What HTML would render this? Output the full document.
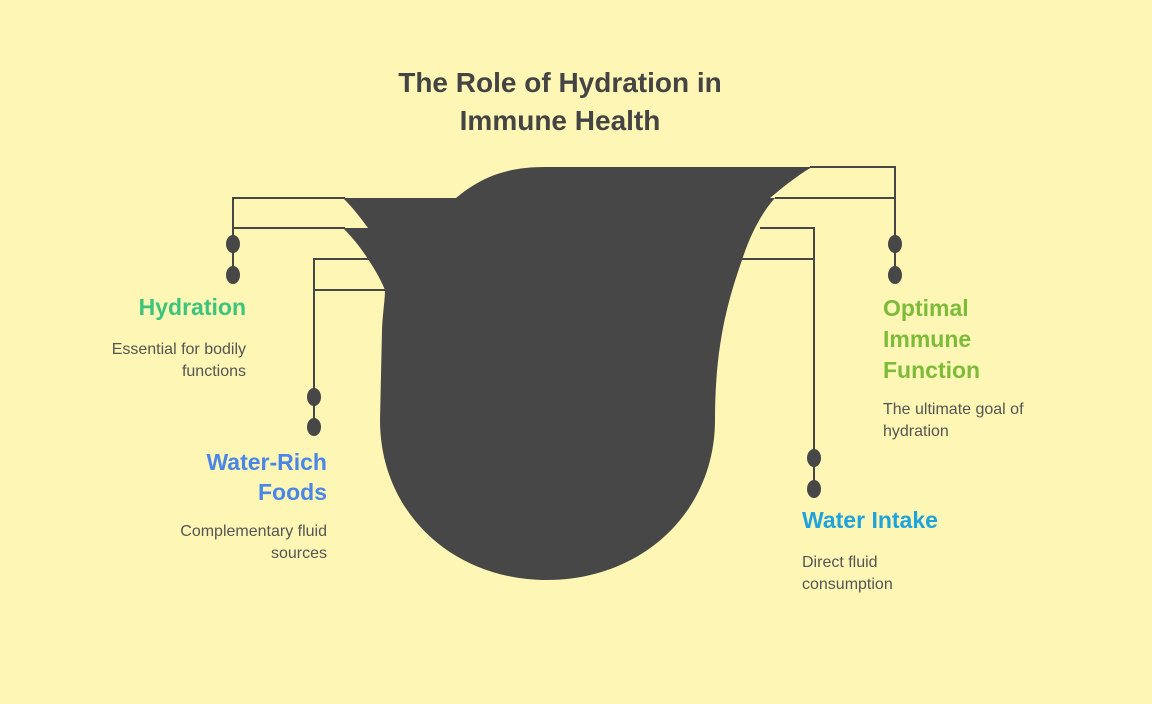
<!DOCTYPE html>
<html><head><meta charset="utf-8"><style>
body{margin:0;width:1152px;height:704px;background:#fef6b4;overflow:hidden;position:relative;font-family:"Liberation Sans",sans-serif;color:#444}
.t{position:absolute;font-weight:bold}
.d{position:absolute;font-size:16px;line-height:22px;color:#555}
</style></head><body>
<div class="t" style="left:300px;top:64px;width:520px;text-align:center;font-size:28px;line-height:38px;color:#444">The Role of Hydration in<br>Immune Health</div>
<svg width="1152" height="704" style="position:absolute;left:0;top:0">
<g fill="#474747">
<path d="M456,198 C480,178 505,167 545,167 L812,167 C795,177 782,188 770,198 Z"/>
<path d="M343,198 L700,198 L700,228 L368,228 C362,220 355,210 343,198 Z"/>
<path d="M343,228 L700,228 L700,259 L368,259 C362,250 355,240 343,228 Z"/>
<path d="M368,259 L700,259 L700,290 L385,290 C380,278 374,268 368,259 Z"/>
<path d="M775,198 C762,212 750,235 742,260 C728,300 715,345 715,420 C715,512 642,580 547,580 C452,580 380,512 380,420 L382,330 C383,310 385,300 385,290 L600,290 L600,198 Z"/>
</g>
<g stroke="#474747" stroke-width="2" fill="none">
<polyline points="810,167 895,167 895,243"/>
<polyline points="345,198 233,198 233,243"/>
<line x1="233" y1="228" x2="345" y2="228"/>
<line x1="233" y1="243" x2="233" y2="275"/>
<line x1="895" y1="243" x2="895" y2="275"/>
<line x1="775" y1="198" x2="895" y2="198"/>
<polyline points="760,228 814,228 814,489"/>
<line x1="742" y1="259" x2="814" y2="259"/>
</g>
<g fill="#474747">
<ellipse cx="233" cy="244" rx="7" ry="9"/><ellipse cx="233" cy="275" rx="7" ry="9"/>
<ellipse cx="895" cy="244" rx="7" ry="9"/><ellipse cx="895" cy="275" rx="7" ry="9"/>
<ellipse cx="314" cy="397" rx="7" ry="9"/><ellipse cx="314" cy="427" rx="7" ry="9"/>
<ellipse cx="814" cy="458" rx="7" ry="9"/><ellipse cx="814" cy="489" rx="7" ry="9"/>
</g>
<g stroke="#474747" stroke-width="2" fill="none">
<polyline points="370,259 314,259 314,427"/>
<line x1="314" y1="290" x2="385" y2="290"/>
</g>
</svg>
<div class="t" style="right:906px;top:294px;font-size:23px;color:#3cc47c">Hydration</div>
<div class="d" style="right:906px;top:339px;text-align:right">Essential for bodily<br>functions</div>
<div class="t" style="right:825px;top:447px;font-size:23px;line-height:30px;text-align:right;color:#4a86e8">Water-Rich<br>Foods</div>
<div class="d" style="right:825px;top:521px;text-align:right">Complementary fluid<br>sources</div>
<div class="t" style="left:883px;top:293px;font-size:23px;line-height:31px;color:#7dbb3a">Optimal<br>Immune<br>Function</div>
<div class="d" style="left:883px;top:399px">The ultimate goal of<br>hydration</div>
<div class="t" style="left:802px;top:507px;font-size:23px;color:#1fa3dd">Water Intake</div>
<div class="d" style="left:802px;top:552px">Direct fluid<br>consumption</div>
</body></html>
